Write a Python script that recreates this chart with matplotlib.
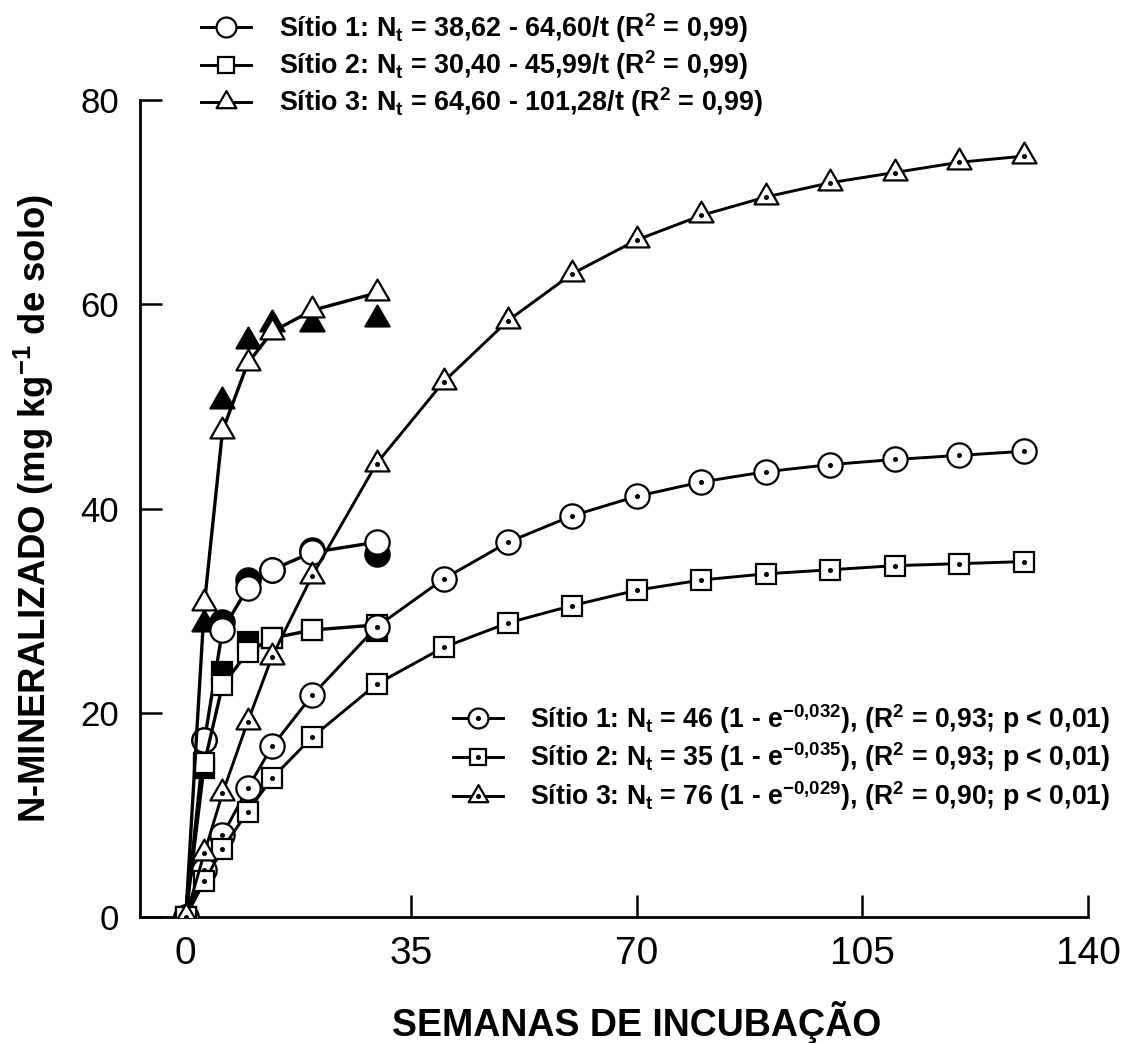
import matplotlib
matplotlib.use("Agg")
import matplotlib.pyplot as plt
import numpy as np
from matplotlib.path import Path
from matplotlib.lines import Line2D
from matplotlib.legend_handler import HandlerTuple

# ---------------- data ----------------
t_early = [0, 2.9, 5.7, 9.6, 13.4, 19.6, 29.6]
t_obs = [2.9, 5.7, 9.6, 13.4, 19.6, 29.6]
t_long = [0, 2.9, 5.7, 9.6, 13.4, 19.6, 29.6, 40, 50, 60, 70, 80, 90, 100, 110, 120, 130]

# hyperbolic model (open markers)
hyp_s1 = [0, 17.3, 28.1, 32.2, 34.0, 35.7, 36.7]
hyp_s2 = [0, 15.1, 22.7, 25.9, 27.3, 28.1, 28.6]
hyp_s3 = [0, 30.7, 47.6, 54.2, 57.3, 59.4, 61.1]

# observed (filled markers)
obs_s1 = [17.3, 28.9, 33.0, 34.0, 35.9, 35.5]
obs_s2 = [14.6, 24.0, 26.9, 27.3, 28.1, 28.0]
obs_s3 = [28.7, 50.5, 56.4, 58.1, 58.1, 58.6]

# exponential model (dotted markers)
exp_s1 = [0, 4.6, 8.0, 12.6, 16.7, 21.7, 28.4, 33.1, 36.7, 39.3, 41.2, 42.6, 43.6, 44.3, 44.8, 45.2, 45.6]
exp_s2 = [0, 3.5, 6.7, 10.3, 13.6, 17.6, 22.8, 26.4, 28.8, 30.5, 32.0, 33.0, 33.6, 34.0, 34.4, 34.6, 34.8]
exp_s3 = [0, 6.3, 12.1, 19.1, 25.5, 33.4, 44.4, 52.4, 58.4, 63.0, 66.3, 68.7, 70.5, 71.9, 72.9, 73.9, 74.5]

top_labels = [
    r"Sítio 1: N$_t$ = 38,62 - 64,60/t (R$^2$ = 0,99)",
    r"Sítio 2: N$_t$ = 30,40 - 45,99/t (R$^2$ = 0,99)",
    r"Sítio 3: N$_t$ = 64,60 - 101,28/t (R$^2$ = 0,99)",
]
bot_labels = [
    r"Sítio 1: N$_t$ = 46 (1 - e$^{-0{,}032}$), (R$^2$ = 0,93; p < 0,01)",
    r"Sítio 2: N$_t$ = 35 (1 - e$^{-0{,}035}$), (R$^2$ = 0,93; p < 0,01)",
    r"Sítio 3: N$_t$ = 76 (1 - e$^{-0{,}029}$), (R$^2$ = 0,90; p < 0,01)",
]
x_ticks = [0, 35, 70, 105, 140]
y_ticks = [0, 20, 40, 60, 80]
x_label = "SEMANAS DE INCUBAÇÃO"
y_label = r"N-MINERALIZADO (mg kg$^{-1}$ de solo)"

# ---------------- style ----------------
plt.rcParams["font.family"] = ["Liberation Sans", "DejaVu Sans"]
plt.rcParams["mathtext.fontset"] = "custom"
plt.rcParams["mathtext.rm"] = "Liberation Sans:bold"
plt.rcParams["mathtext.it"] = "Liberation Sans:bold"
plt.rcParams["mathtext.bf"] = "Liberation Sans:bold"
plt.rcParams["mathtext.sf"] = "Liberation Sans:bold"

# equilateral triangle centred on its centroid
tri = Path([(-1, -0.577), (1, -0.577), (0, 1.155), (-1, -0.577)],
           [Path.MOVETO, Path.LINETO, Path.LINETO, Path.CLOSEPOLY])

LW = 2.1
MEW = 1.6
sizes = {"o": 17.5, "s": 14.8, tri: 20}
markers = ["o", "s", tri]

fig = plt.figure(figsize=(11.23, 10.43), dpi=100)
ax = fig.add_axes([140 / 1123, 1 - 917 / 1043, (1088 - 140) / 1123, (917 - 100) / 1043])

hyp = [hyp_s1, hyp_s2, hyp_s3]
obs = [obs_s1, obs_s2, obs_s3]
exps = [exp_s1, exp_s2, exp_s3]
zc = [0, 0.1, 0.2]

for i in range(3):
    m = markers[i]
    ax.plot(t_obs, obs[i], linestyle="none", marker=m, ms=sizes[m], mfc="black",
            mec="black", mew=MEW, zorder=2 + zc[i])
for i in range(3):
    m = markers[i]
    ax.plot(t_early, hyp[i], color="black", lw=LW + 0.3, marker=m, ms=sizes[m], mfc="white",
            mec="black", mew=MEW, zorder=3 + zc[i])
for i in range(3):
    m = markers[i]
    ax.plot(t_long, exps[i], color="black", lw=LW, marker=m, ms=sizes[m], mfc="white",
            mec="black", mew=MEW, zorder=4 + zc[i])
    ax.plot(t_long, exps[i], linestyle="none", marker="o", ms=2.6, mfc="black",
            mec="black", zorder=4.05 + zc[i])

ax.set_xlim(-7.1, 140)
ax.set_ylim(0, 80)
ax.set_xticks(x_ticks)
ax.set_yticks(y_ticks)
for s in ["top", "right"]:
    ax.spines[s].set_visible(False)
for s in ["left", "bottom"]:
    ax.spines[s].set_linewidth(2.0)
ax.tick_params(direction="in", length=16, width=1.8)
ax.tick_params(axis="x", labelsize=28, pad=14)
ax.tick_params(axis="y", labelsize=25, pad=15)

ax.set_xlabel(x_label, fontsize=27, fontweight="bold")
ax.xaxis.set_label_coords((637 - 140) / 948, -0.103)
ax.set_ylabel(y_label, fontsize=26.3, fontweight="bold")
ax.yaxis.set_label_coords(-0.0886, 0.5)

# legends
FS_TOP = 19.4
FS_BOT = 19.2
top_handles = [Line2D([], [], color="black", lw=LW, marker=m, ms=sizes[m], mfc="white",
                      mec="black", mew=MEW) for m in markers]
leg1 = fig.legend(top_handles, top_labels, loc="upper left",
                  bbox_to_anchor=(201 / 1123, 1 - 11 / 1043), frameon=False,
                  prop={"family": "Liberation Sans", "weight": "bold", "size": FS_TOP},
                  handlelength=1.86, handletextpad=1.04, labelspacing=0.13,
                  borderpad=0, borderaxespad=0, markerscale=0.82)

bot_handles = []
for m in markers:
    h1 = Line2D([], [], color="black", lw=LW, marker=m, ms=sizes[m], mfc="white",
                mec="black", mew=MEW)
    h2 = Line2D([], [], linestyle="none", marker="o", ms=3.2, mfc="black", mec="black")
    bot_handles.append((h1, h2))
leg2 = fig.legend(bot_handles, bot_labels, loc="upper left",
                  bbox_to_anchor=(453 / 1123, 1 - 702 / 1043), frameon=False,
                  prop={"family": "Liberation Sans", "weight": "bold", "size": FS_BOT},
                  handlelength=1.86, handletextpad=1.04, labelspacing=0.18,
                  borderpad=0, borderaxespad=0, markerscale=0.82,
                  handler_map={tuple: HandlerTuple(ndivide=1, pad=0)})

fig.savefig("out.png", dpi=100)
